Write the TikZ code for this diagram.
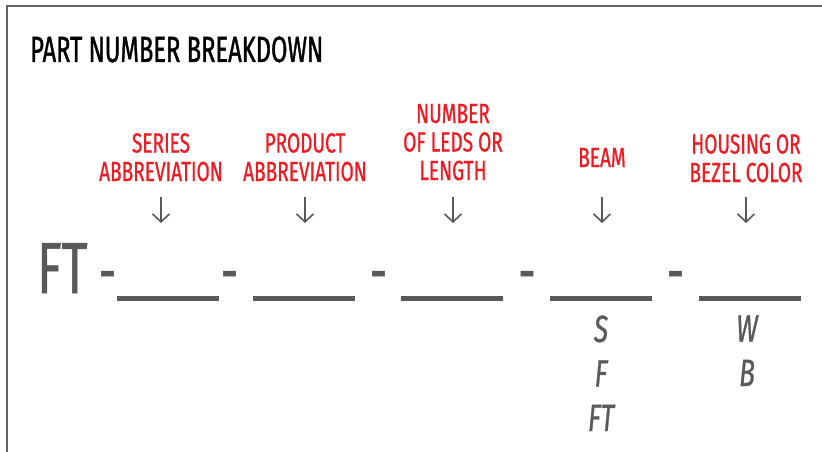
\documentclass[tikz,border=0pt]{standalone}
\usepackage{fontspec}
\setmainfont{Fira Sans}[FakeStretch=0.69,FakeBold=0.8]
\newfontfamily\headfont{Fira Sans}[FakeStretch=0.65,FakeBold=1]
\usetikzlibrary{arrows.meta}
\definecolor{partred}{RGB}{237,28,36}
\definecolor{ink}{RGB}{88,89,91}
\definecolor{framegray}{RGB}{100,100,100}
\begin{document}
\begin{tikzpicture}[x=1pt,y=-1pt,
		heading/.style={anchor=base west,inner sep=0,font=\headfont\fontsize{36.5}{40}\selectfont},
		field/.style={anchor=base,inner sep=0,align=center,text=partred,font=\fontsize{27.6}{28.5}\selectfont},
		pointer/.style={ink,line width=1.6pt,-{Straight Barb[length=8pt,width=17pt,line width=1.6pt]}},
		blank/.style={fill=ink,inner sep=0,minimum width=102pt,minimum height=5pt},
		sep/.style={anchor=base,inner sep=0,text=ink,font=\fontsize{62}{62}\selectfont},
		choice/.style={anchor=base,inner sep=0,align=center,text=ink,font=\fontsize{38}{44.5}\selectfont\itshape}]
		\useasboundingbox (0,0) rectangle (822,452);
		\draw[framegray,line width=2pt] (7,452) -- (7,6) -- (822,6);
		\node[heading] (title) at (30,62) {PART NUMBER BREAKDOWN};
		% field names
		\node[field] (series) at (161,181) {SERIES\\ABBREVIATION};
		\node[field] (product) at (305,181) {PRODUCT\\ABBREVIATION};
		\node[field] (leds) at (453,180) {NUMBER\\OF LEDS OR\\LENGTH};
		\node[field] (beam) at (602,167) {BEAM};
		\node[field] (housing) at (746,182) {HOUSING OR\\BEZEL COLOR};
		% part number line
		\node[anchor=base west,inner sep=0,text=ink,font=\fontsize{72.5}{72}\selectfont] (ft) at (37,293) {FT};
		\node[blank] (b1) at (168,298.5) {};
		\node[blank] (b2) at (304,298.5) {};
		\node[blank] (b3) at (452,298.5) {};
		\node[blank] (b4) at (601,298.5) {};
		\node[blank] (b5) at (749.5,298.5) {};
		\node[sep] (d1) at (107.5,293) {-};
		\node[sep] (d2) at (229.5,293) {-};
		\node[sep] (d3) at (378.5,293) {-};
		\node[sep] (d4) at (527,293) {-};
		\node[sep] (d5) at (675.5,293) {-};
		\foreach \f/\b in {series/b1,product/b2,leds/b3,beam/b4,housing/b5}
			\draw[pointer] (\f |- 0,197) -- (\f |- 0,223);
		% options
		\node[choice] (beamopt) at (601,431) {S\\F\\FT};
		\node[choice] (housingopt) at (747,386) {W\\B};
\end{tikzpicture}
\end{document}
